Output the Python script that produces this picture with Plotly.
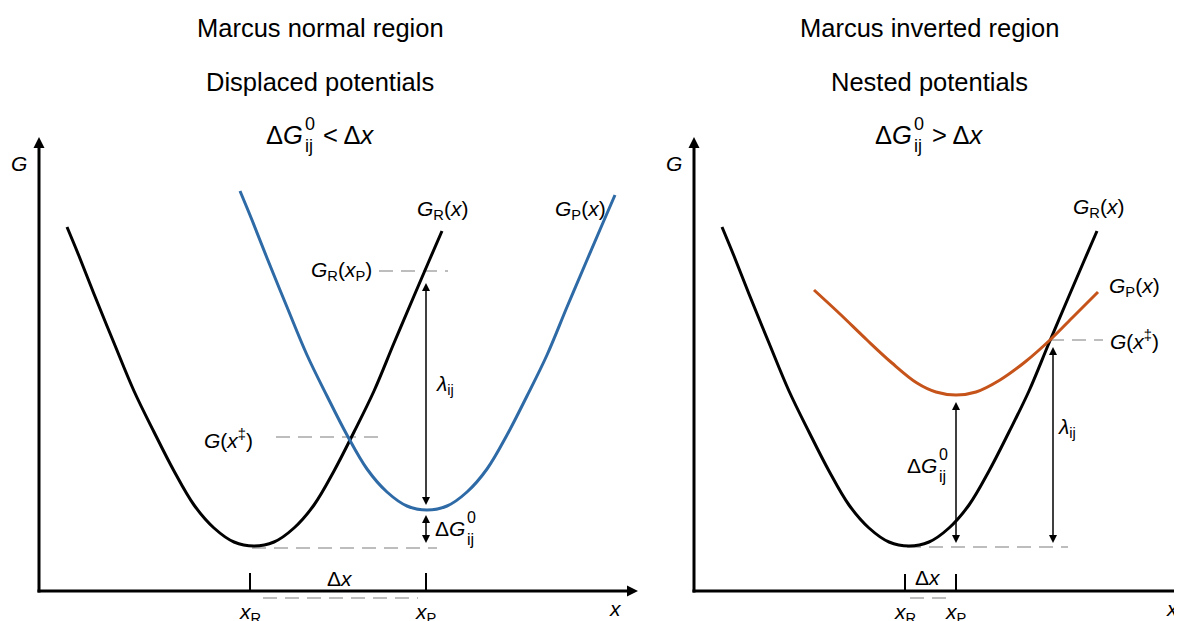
import plotly.graph_objects as go

# ---------------- data (panel units = px measured from each panel's axis origin) -------------
# Reactant free-energy curve G_R(x) (identical in both panels)
gr_x = [28, 40, 55, 75, 95, 115, 135, 155, 175, 195, 215, 235, 255, 275, 295, 315, 335, 355, 375, 390, 403]
gr_g = [364, 335, 297, 248, 200, 159, 120, 86, 63, 49, 45, 49, 63, 86, 120, 159, 200, 248, 295, 330, 360]

# Marcus normal region (displaced potentials)
normal_x_R = 211          # tick x_R
normal_x_P = 387          # tick x_P
normal_gp_shift_x = 173   # G_P(x) is G_R(x) displaced right ...
normal_dG0 = 36           # ... and up by ΔG0
normal_G_TS = 154         # G(x‡)
normal_G_RxP = 320        # G_R(x_P)

# Marcus inverted region (nested potentials): product curve G_P(x)
gp_inv_x = [120, 146, 173, 198, 223, 242, 262, 282, 306, 331, 356, 380, 404]
gp_inv_g = [301, 277, 251, 228, 208, 199, 196, 199, 211, 229, 251, 275, 299]
inv_x_R = 211
inv_x_P = 262
inv_x_TS = 356
inv_G_TS = 251

titles_left = ["Marcus normal region", "Displaced potentials"]
titles_right = ["Marcus inverted region", "Nested potentials"]

# ---------------- styles ----------------
FONT = "Liberation Sans, Arial, sans-serif"
BLACK = "#000000"
BLUE = "#2E6AA6"
ORANGE = "#C5531A"
GRAY = "#BDBDBD"
DASH = "14px,8px"
W, H = 1174, 613                 # page body has an 8px margin
OX_L, OX_R, OY = 31, 686, 583    # axis origins in figure pixels
T_SIZE, L_SIZE = 25.5, 21

fig = go.Figure()
G_min = min(gr_g)


def axes(ax):
    return ("x", "y") if ax == 1 else ("x2", "y2")


def line(ax, xs, ys, color=BLACK, width=3, dash=None, shape="linear"):
    xa, ya = axes(ax)
    fig.add_trace(go.Scatter(
        x=xs, y=ys, mode="lines", xaxis=xa, yaxis=ya, hoverinfo="skip", showlegend=False,
        line=dict(color=color, width=width, dash=dash, shape=shape, smoothing=1.0)))


def heads(ax, xs, ys, symbols, size):
    xa, ya = axes(ax)
    fig.add_trace(go.Scatter(
        x=xs, y=ys, mode="markers", xaxis=xa, yaxis=ya, hoverinfo="skip", showlegend=False,
        marker=dict(symbol=symbols, size=size, color=BLACK, line=dict(width=0))))


def label(ax, x, y, text, size=L_SIZE, xanchor="center", yanchor="middle", yshift=0):
    xa, ya = axes(ax)
    fig.add_annotation(x=x, y=y, xref=xa, yref=ya, text=text, showarrow=False,
                       xanchor=xanchor, yanchor=yanchor, yshift=yshift, borderpad=0,
                       font=dict(size=size, family=FONT, color=BLACK))


def stacked(ax, xsplit, y, base, sup, sub, size, ssize, dy):
    label(ax, xsplit, y, base, size, xanchor="right")
    label(ax, xsplit, y, sup, ssize, xanchor="left", yshift=dy)
    label(ax, xsplit, y, sub, ssize, xanchor="left", yshift=-dy)


def vdouble(ax, x, y_low, y_high, gap_low, gap_high):
    lo, hi = y_low + gap_low, y_high - gap_high
    line(ax, [x, x], [lo + 3, hi - 3], BLACK, 1.5)
    heads(ax, [x, x], [hi, lo], ["arrow-up", "arrow-down"], 8)


def frame(ax, x_end, with_x_arrow=True):
    line(ax, [0, 0], [-1.5, 445], BLACK, 3)
    heads(ax, [0], [454], ["arrow-up"], 11)
    line(ax, [-1.5, x_end - 8], [0, 0], BLACK, 3)
    if with_x_arrow:
        heads(ax, [x_end], [0], ["arrow-right"], 11)
    label(ax, -20, 428, "<i>G</i>", L_SIZE)


def title_block(ax, cx, texts, rel):
    label(ax, cx, 563, texts[0], T_SIZE)
    label(ax, cx, 509, texts[1], T_SIZE)
    split = cx - 16
    stacked(ax, split, 456, "Δ<i>G</i>", "0", "ij", T_SIZE, 18, 11)
    label(ax, split + 18, 456, rel + " Δ<i>x</i>", T_SIZE, xanchor="left")


# ================= left panel: normal region =================
gp_n_x = [x + normal_gp_shift_x for x in gr_x]
gp_n_g = [g + normal_dG0 for g in gr_g]
GP_min_n = min(gp_n_g)

frame(1, 599)
title_block(1, 281, titles_left, "<")

# dashed guides
line(1, [normal_x_R + 2, normal_x_P + 11], [G_min - 2, G_min - 2], GRAY, 2, DASH)
line(1, [normal_x_R + 13, normal_x_P - 8], [-7, -7], GRAY, 2, DASH)
line(1, [237, 341], [normal_G_TS, normal_G_TS], GRAY, 2, DASH)
line(1, [340, 409], [normal_G_RxP, normal_G_RxP], GRAY, 2, DASH)

# curves
line(1, gr_x, gr_g, BLACK, 3, shape="spline")
line(1, gp_n_x, gp_n_g, BLUE, 3, shape="spline")

# ticks and axis labels
for xt in (normal_x_R, normal_x_P):
    line(1, [xt, xt], [0, 18], BLACK, 2)
label(1, normal_x_R, -22, "<i>x</i><sub>R</sub>")
label(1, normal_x_P, -22, "<i>x</i><sub>P</sub>")
label(1, 301, 13, "Δ<i>x</i>")
label(1, 576, -17, "<i>x</i>")

# arrows
vdouble(1, normal_x_P, GP_min_n, normal_G_RxP, 5, 12)
vdouble(1, normal_x_P, G_min, GP_min_n, 3, 5)

# labels
label(1, 403, 381, "<i>G</i><sub>R</sub>(<i>x</i>)")
label(1, 541, 381, "<i>G</i><sub>P</sub>(<i>x</i>)")
label(1, 334, normal_G_RxP, "<i>G</i><sub>R</sub>(<i>x</i><sub>P</sub>)", xanchor="right")
label(1, 215, normal_G_TS - 2, "<i>G</i>(<i>x</i><sup>‡</sup>)", xanchor="right")
label(1, 396, 206, "<i>λ</i><sub>ij</sub>", xanchor="left")
stacked(1, 427, 63, "Δ<i>G</i>", "0", "ij", L_SIZE, 16, 11)

# ================= right panel: inverted region =================
GP_min_i = min(gp_inv_g)
frame(2, 520, with_x_arrow=False)
title_block(2, 235, titles_right, ">")

line(2, [inv_x_R + 2, inv_x_TS + 18], [G_min - 1, G_min - 1], GRAY, 2, DASH)
line(2, [inv_x_R + 5, inv_x_P - 8], [-7, -7], GRAY, 2, DASH)
line(2, [inv_x_TS, inv_x_TS + 53], [inv_G_TS, inv_G_TS], GRAY, 2, DASH)

line(2, gr_x, gr_g, BLACK, 3, shape="spline")
line(2, gp_inv_x, gp_inv_g, ORANGE, 3, shape="spline")

for xt in (inv_x_R, inv_x_P):
    line(2, [xt, xt], [0, 17], BLACK, 2)
label(2, inv_x_R, -22, "<i>x</i><sub>R</sub>")
label(2, inv_x_P, -22, "<i>x</i><sub>P</sub>")
label(2, 234, 14, "Δ<i>x</i>")
label(2, 478, -17, "<i>x</i>")

vdouble(2, inv_x_P, G_min, GP_min_i, 3, 7)
vdouble(2, inv_x_TS + 3, G_min, inv_G_TS, 3, 7)

label(2, 404, 383, "<i>G</i><sub>R</sub>(<i>x</i>)")
label(2, 440, 304, "<i>G</i><sub>P</sub>(<i>x</i>)")
label(2, 415, inv_G_TS, "<i>G</i>(<i>x</i><sup>‡</sup>)", xanchor="left")
label(2, 363, 163, "<i>λ</i><sub>ij</sub>", xanchor="left")
stacked(2, 244, 126, "Δ<i>G</i>", "0", "ij", L_SIZE, 16, 11)

# ---------------- layout ----------------
fig.update_layout(
    width=W, height=H, margin=dict(l=0, r=0, t=0, b=0),
    paper_bgcolor="white", plot_bgcolor="rgba(0,0,0,0)", showlegend=False,
    xaxis=dict(domain=[0, 1], range=[-OX_L, W - OX_L], visible=False, fixedrange=True),
    yaxis=dict(domain=[0, 1], range=[-(H - OY), OY], visible=False, fixedrange=True),
    xaxis2=dict(range=[-OX_R, W - OX_R], visible=False, overlaying="x", fixedrange=True),
    yaxis2=dict(range=[-(H - OY), OY], visible=False, overlaying="y", fixedrange=True),
)

fig.write_html("out.html")
